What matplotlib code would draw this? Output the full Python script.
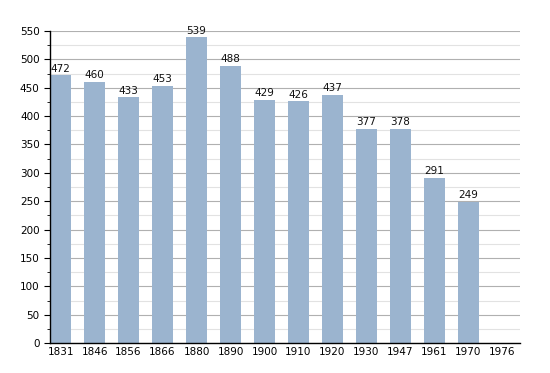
import matplotlib.pyplot as plt
from matplotlib.ticker import MultipleLocator

years = ["1831", "1846", "1856", "1866", "1880", "1890", "1900", "1910",
         "1920", "1930", "1947", "1961", "1970", "1976"]
population = [472, 460, 433, 453, 539, 488, 429, 426, 437, 377, 378, 291, 249, None]

fig = plt.figure(figsize=(5.5, 3.73), dpi=100)
ax = fig.add_axes([0.091, 0.080, 0.854, 0.837])

xs = list(range(len(years)))
for x, v in zip(xs, population):
    if v is None:
        continue
    ax.bar(x, v, width=0.62, color="#9bb4cf", zorder=2)
    ax.text(x, v + 3, str(v), ha="center", va="bottom", fontsize=7.5, color="#111111")

ax.set_xlim(-0.31, 13.51)
ax.set_ylim(0, 550)
ax.set_xticks(xs)
ax.set_xticklabels(years)
ax.yaxis.set_major_locator(MultipleLocator(50))
ax.yaxis.set_minor_locator(MultipleLocator(25))
ax.grid(axis="y", which="major", color="#b0b0b0", linewidth=0.8, zorder=0)
ax.grid(axis="y", which="minor", color="#e2e2e2", linewidth=0.8, zorder=0)
ax.tick_params(axis="x", length=0, labelsize=7.5, pad=3)
ax.tick_params(axis="y", which="major", length=4, labelsize=7.5)
ax.tick_params(axis="y", which="minor", length=2)
for s in ["top", "right"]:
    ax.spines[s].set_visible(False)
ax.spines["left"].set_linewidth(1.0)
ax.spines["bottom"].set_linewidth(1.0)

fig.savefig("out.png", dpi=100)
